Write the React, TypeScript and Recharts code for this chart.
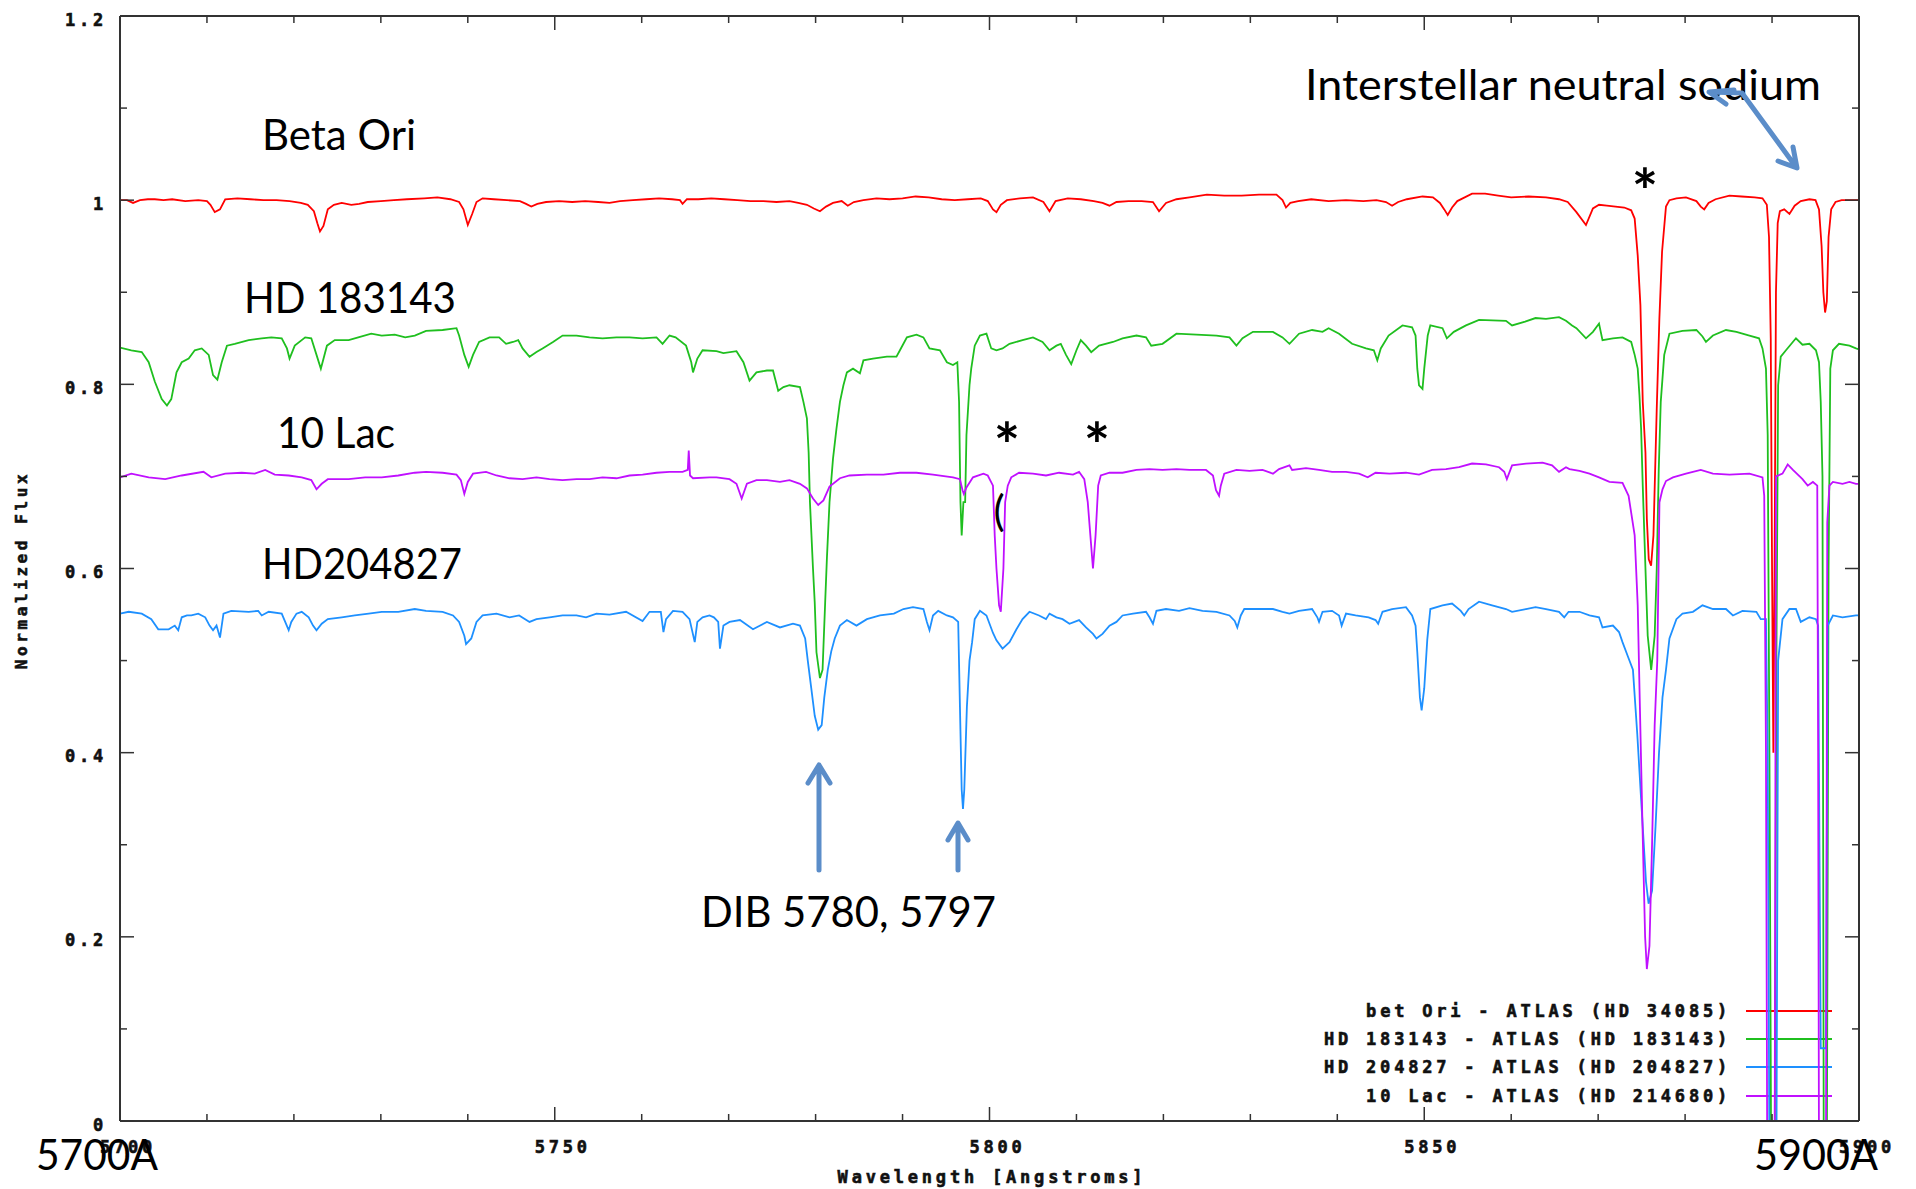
import React from 'react';
import { LineChart, Line, XAxis, YAxis } from 'recharts';

// ---------- data ----------
const xTicks = [5700, 5710, 5720, 5730, 5740, 5750, 5760, 5770, 5780, 5790, 5800, 5810, 5820, 5830, 5840, 5850, 5860, 5870, 5880, 5890, 5900];
const xMajorTicks = [5700, 5750, 5800, 5850, 5900];
const yTicks = [0, 0.1, 0.2, 0.3, 0.4, 0.5, 0.6, 0.7, 0.8, 0.9, 1, 1.1, 1.2];
const yMajorTicks = [0, 0.2, 0.4, 0.6, 0.8, 1, 1.2];

const betOri: [number, number][] = [
  [5700.0, 1.000], [5700.8, 1.000], [5701.5, 0.997], [5702.3, 1.000], [5703.2, 1.001], [5704.0, 1.001], [5705.0, 1.000], [5706.0, 1.001], [5707.5, 0.999], [5709.0, 1.000], [5710.0, 0.999], [5710.4, 0.995], [5710.9, 0.987], [5711.5, 0.990], [5712.1, 1.001], [5713.5, 1.002], [5715.0, 1.001], [5716.5, 1.000], [5718.0, 1.000], [5719.5, 0.999], [5720.8, 0.997], [5721.6, 0.995], [5722.3, 0.988], [5722.7, 0.975], [5723.0, 0.966], [5723.4, 0.972], [5723.9, 0.990], [5724.6, 0.995], [5725.5, 0.997], [5726.6, 0.995], [5727.5, 0.996], [5728.5, 0.998], [5730.0, 0.999], [5731.5, 1.000], [5733.0, 1.001],
  [5735.0, 1.002], [5736.5, 1.003], [5738.0, 1.001], [5739.0, 0.998], [5739.5, 0.990], [5740.0, 0.973], [5740.5, 0.985], [5741.0, 0.998], [5741.7, 1.002], [5743.0, 1.001], [5744.5, 1.000], [5746.0, 0.999], [5746.7, 0.996], [5747.3, 0.993], [5748.0, 0.996], [5749.0, 0.998], [5750.5, 0.999], [5752.0, 0.998], [5753.5, 0.999], [5755.0, 0.998], [5756.3, 0.997], [5757.5, 0.999], [5759.0, 1.000], [5760.5, 1.001], [5762.0, 1.002], [5763.5, 1.001], [5764.4, 1.000], [5764.7, 0.996], [5765.2, 1.001], [5766.5, 1.001], [5768.0, 1.002],
  [5769.5, 1.001], [5771.0, 1.000], [5772.5, 0.999], [5774.0, 0.999], [5775.5, 0.998], [5777.0, 0.999], [5778.0, 0.997], [5779.0, 0.995], [5779.8, 0.991], [5780.5, 0.988], [5781.2, 0.993], [5782.0, 0.997], [5783.0, 0.999], [5783.7, 0.994], [5784.4, 0.998], [5785.5, 1.000], [5787.0, 1.002], [5788.5, 1.001], [5790.0, 1.002], [5791.5, 1.004], [5793.0, 1.003], [5794.5, 1.001], [5796.0, 1.000], [5797.5, 1.001], [5799.0, 1.002], [5799.8, 0.999], [5800.4, 0.990], [5800.8, 0.987], [5801.3, 0.995], [5802.0, 1.000], [5803.5, 1.002], [5805.0, 1.003], [5806.2, 0.998], [5806.9, 0.988], [5807.6, 0.999], [5809.0, 1.002], [5810.5, 1.001], [5812.0, 0.999], [5813.0, 0.997], [5813.8, 0.994], [5814.6, 0.998], [5816.0, 0.999], [5817.5, 0.999], [5818.8, 0.998], [5819.5, 0.988], [5820.3, 0.997], [5821.5, 1.001], [5823.0, 1.003], [5825.0, 1.006], [5827.0, 1.005], [5829.0, 1.005], [5831.0, 1.006], [5833.0, 1.006], [5833.7, 1.000], [5834.1, 0.992], [5834.6, 0.997], [5835.5, 0.999], [5837.0, 1.001], [5839.0, 0.999], [5841.0, 1.000], [5843.0, 0.999], [5844.5, 1.000], [5845.6, 0.998], [5846.3, 0.994], [5847.0, 0.998], [5848.0, 1.001], [5849.8, 1.004], [5851.0, 1.003], [5851.8, 0.997], [5852.3, 0.990], [5852.7, 0.984], [5853.2, 0.992], [5853.8, 0.999], [5855.5, 1.007], [5857.0, 1.007], [5858.5, 1.005], [5860.0, 1.003], [5862.0, 1.004], [5864.0, 1.003], [5865.5, 1.001], [5866.5, 0.998], [5867.5, 0.987], [5868.6, 0.973], [5869.4, 0.991], [5870.1, 0.995], [5871.0, 0.994], [5872.0, 0.993], [5873.0, 0.992], [5873.8, 0.989], [5874.2, 0.980], [5874.55, 0.940], [5874.86, 0.886], [5875.13, 0.781], [5875.44, 0.726], [5875.6, 0.654], [5875.82, 0.610], [5876.09, 0.603], [5876.36, 0.636], [5876.74, 0.774], [5877.04, 0.871], [5877.35, 0.944], [5877.8, 0.993], [5878.2, 1.000], [5879.0, 1.002], [5880.1, 1.003], [5881.3, 0.999], [5881.8, 0.993], [5882.2, 0.990], [5882.7, 0.997], [5883.5, 1.001], [5885.1, 1.005], [5886.5, 1.004], [5888.0, 1.003], [5888.9, 1.002], [5889.4, 0.995], [5889.65, 0.960], [5889.85, 0.850], [5890.0, 0.600], [5890.15, 0.400], [5890.3, 0.620], [5890.45, 0.900], [5890.65, 0.975], [5890.9, 0.988], [5891.4, 0.990], [5892.0, 0.985], [5892.6, 0.994], [5893.3, 0.999], [5894.3, 1.001], [5895.0, 1.000], [5895.4, 0.990], [5895.7, 0.950], [5895.9, 0.900], [5896.1, 0.878], [5896.3, 0.890], [5896.5, 0.960], [5896.8, 0.990], [5897.3, 0.998], [5898.0, 1.000], [5899.0, 1.000], [5900.0, 1.000],
];

const hd183143: [number, number][] = [
  [5700.0, 0.840], [5701.3, 0.837], [5702.5, 0.835], [5703.3, 0.824], [5704.0, 0.803], [5704.8, 0.784], [5705.4, 0.777], [5705.9, 0.784], [5706.5, 0.813], [5707.1, 0.824], [5707.9, 0.828], [5708.6, 0.837], [5709.4, 0.839], [5710.2, 0.832], [5710.7, 0.810], [5711.2, 0.805], [5711.7, 0.824], [5712.3, 0.842], [5713.2, 0.844], [5714.8, 0.848], [5716.3, 0.850], [5717.4, 0.851], [5718.6, 0.850], [5719.2, 0.839], [5719.5, 0.828], [5720.1, 0.842], [5721.3, 0.851], [5722.0, 0.850], [5722.6, 0.832], [5723.1, 0.817], [5723.8, 0.842], [5724.7, 0.848], [5726.3, 0.848], [5727.4, 0.851], [5728.9, 0.855], [5730.1, 0.853], [5731.6, 0.854], [5732.8, 0.851], [5733.9, 0.853], [5735.2, 0.858], [5737.1, 0.859], [5738.7, 0.861], [5739.0, 0.853], [5739.6, 0.832], [5740.1, 0.819], [5740.6, 0.832], [5741.3, 0.846], [5742.5, 0.851], [5743.6, 0.851], [5744.4, 0.844], [5745.2, 0.846], [5745.8, 0.848], [5746.3, 0.839], [5747.1, 0.830], [5747.9, 0.835], [5748.6, 0.839], [5749.8, 0.846], [5750.9, 0.853], [5752.5, 0.853], [5754.0, 0.851], [5755.5, 0.850], [5757.1, 0.851], [5758.6, 0.851], [5760.1, 0.850], [5761.7, 0.851], [5762.4, 0.844], [5763.2, 0.853], [5763.9, 0.851], [5765.1, 0.842], [5765.7, 0.824], [5765.9, 0.813], [5766.4, 0.828], [5767.0, 0.837], [5768.6, 0.836], [5769.4, 0.834], [5770.9, 0.836], [5771.7, 0.824], [5772.4, 0.804], [5773.2, 0.813], [5774.4, 0.815], [5775.1, 0.815], [5775.7, 0.793], [5776.3, 0.797], [5777.0, 0.799], [5778.2, 0.797], [5778.6, 0.781], [5779.0, 0.763], [5779.2, 0.726], [5779.35, 0.672], [5779.7, 0.600], [5779.9, 0.563], [5780.1, 0.509], [5780.5, 0.481], [5780.8, 0.490], [5781.1, 0.563], [5781.3, 0.611], [5781.6, 0.672], [5782.0, 0.719], [5782.4, 0.752], [5782.8, 0.781], [5783.2, 0.799], [5783.6, 0.813], [5784.3, 0.817], [5785.1, 0.812], [5785.5, 0.826], [5786.6, 0.828], [5788.2, 0.830], [5789.3, 0.830], [5789.7, 0.837], [5790.5, 0.851], [5791.6, 0.854], [5792.4, 0.851], [5793.1, 0.839], [5794.3, 0.837], [5795.1, 0.824], [5795.8, 0.821], [5796.3, 0.824], [5796.5, 0.781], [5796.66, 0.672], [5796.8, 0.636], [5797.0, 0.672], [5797.2, 0.672], [5797.35, 0.745], [5797.7, 0.799], [5797.9, 0.817], [5798.3, 0.842], [5798.9, 0.853], [5799.65, 0.855], [5800.2, 0.839], [5800.8, 0.837], [5801.5, 0.839], [5802.3, 0.844], [5803.8, 0.848], [5805.0, 0.851], [5806.1, 0.846], [5806.9, 0.837], [5807.7, 0.842], [5808.2, 0.844], [5808.8, 0.832], [5809.4, 0.822], [5810.0, 0.837], [5810.5, 0.848], [5811.1, 0.842], [5811.7, 0.835], [5812.6, 0.842], [5814.2, 0.846], [5815.3, 0.850], [5816.9, 0.853], [5818.0, 0.851], [5818.6, 0.842], [5819.9, 0.844], [5821.5, 0.855], [5823.8, 0.854], [5826.1, 0.853], [5827.6, 0.851], [5828.4, 0.842], [5829.1, 0.850], [5830.3, 0.857], [5832.6, 0.857], [5833.7, 0.851], [5834.5, 0.844], [5835.6, 0.855], [5837.1, 0.859], [5838.3, 0.857], [5839.0, 0.861], [5840.2, 0.855], [5841.7, 0.844], [5843.3, 0.839], [5844.2, 0.837], [5844.6, 0.826], [5845.0, 0.839], [5845.9, 0.853], [5847.5, 0.864], [5848.6, 0.862], [5849.0, 0.853], [5849.2, 0.817], [5849.4, 0.799], [5849.8, 0.795], [5850.0, 0.817], [5850.4, 0.853], [5850.7, 0.864], [5852.1, 0.861], [5852.6, 0.850], [5853.4, 0.857], [5854.8, 0.864], [5856.3, 0.870], [5859.4, 0.869], [5860.1, 0.864], [5861.6, 0.868], [5862.8, 0.872], [5864.0, 0.871], [5865.5, 0.873], [5866.3, 0.869], [5867.0, 0.864], [5867.5, 0.861], [5868.6, 0.850], [5869.4, 0.857], [5870.1, 0.866], [5870.5, 0.848], [5871.7, 0.850], [5872.8, 0.851], [5873.8, 0.846], [5874.2, 0.832], [5874.55, 0.817], [5874.75, 0.788], [5874.94, 0.752], [5875.13, 0.690], [5875.44, 0.600], [5875.7, 0.527], [5876.1, 0.490], [5876.5, 0.527], [5876.74, 0.600], [5876.97, 0.708], [5877.2, 0.781], [5877.6, 0.832], [5878.2, 0.855], [5879.7, 0.858], [5881.3, 0.859], [5882.0, 0.852], [5882.4, 0.846], [5883.2, 0.853], [5884.7, 0.859], [5885.9, 0.857], [5887.4, 0.853], [5888.5, 0.850], [5888.9, 0.839], [5889.3, 0.817], [5889.5, 0.745], [5889.7, 0.400], [5889.9, -0.05], [5890.3, -0.05], [5890.5, 0.500], [5890.7, 0.799], [5891.0, 0.830], [5891.6, 0.837], [5892.75, 0.850], [5893.5, 0.843], [5894.3, 0.844], [5895.05, 0.837], [5895.4, 0.824], [5895.6, 0.781], [5895.8, 0.700], [5895.95, -0.05], [5896.3, -0.05], [5896.5, 0.600], [5896.7, 0.817], [5897.0, 0.837], [5897.7, 0.844], [5898.9, 0.842], [5899.65, 0.839], [5900.0, 0.838],
];

const hd204827: [number, number][] = [
  [5700.0, 0.551], [5701.0, 0.553], [5702.5, 0.551], [5703.6, 0.545], [5704.4, 0.534], [5705.6, 0.534], [5706.3, 0.538], [5706.7, 0.533], [5707.1, 0.547], [5707.7, 0.549], [5708.2, 0.549], [5709.0, 0.551], [5709.8, 0.547], [5710.3, 0.538], [5710.7, 0.533], [5711.1, 0.538], [5711.5, 0.525], [5711.9, 0.551], [5712.8, 0.554], [5714.8, 0.553], [5715.9, 0.554], [5716.3, 0.549], [5717.1, 0.553], [5718.6, 0.551], [5719.0, 0.542], [5719.4, 0.533], [5719.7, 0.542], [5720.3, 0.551], [5720.9, 0.553], [5721.7, 0.547], [5722.2, 0.538], [5722.6, 0.533], [5723.2, 0.540], [5723.9, 0.545], [5725.5, 0.547], [5727.0, 0.549], [5728.6, 0.551], [5730.1, 0.553], [5732.0, 0.553], [5733.9, 0.556], [5735.2, 0.554], [5737.1, 0.553], [5738.3, 0.549], [5739.0, 0.542], [5739.6, 0.527], [5739.8, 0.518], [5740.4, 0.524], [5741.0, 0.542], [5741.7, 0.549], [5743.3, 0.551], [5744.8, 0.547], [5745.9, 0.549], [5747.1, 0.542], [5747.9, 0.545], [5749.4, 0.547], [5750.9, 0.549], [5752.5, 0.549], [5753.6, 0.547], [5754.8, 0.551], [5756.3, 0.550], [5758.2, 0.553], [5760.1, 0.543], [5760.9, 0.553], [5762.2, 0.553], [5762.5, 0.531], [5762.8, 0.545], [5763.6, 0.554], [5764.7, 0.553], [5765.5, 0.545], [5766.1, 0.520], [5766.4, 0.542], [5767.0, 0.547], [5767.8, 0.549], [5768.3, 0.547], [5768.8, 0.542], [5769.0, 0.513], [5769.4, 0.538], [5770.1, 0.542], [5771.3, 0.544], [5772.8, 0.534], [5774.4, 0.542], [5775.9, 0.536], [5777.4, 0.540], [5778.2, 0.538], [5778.8, 0.524], [5779.1, 0.500], [5779.5, 0.470], [5779.9, 0.440], [5780.3, 0.425], [5780.7, 0.430], [5781.0, 0.460], [5781.4, 0.490], [5781.8, 0.510], [5782.2, 0.524], [5782.8, 0.538], [5783.6, 0.544], [5784.7, 0.538], [5785.9, 0.545], [5787.4, 0.549], [5789.0, 0.551], [5790.1, 0.556], [5791.2, 0.558], [5792.4, 0.556], [5792.8, 0.542], [5793.1, 0.533], [5793.5, 0.549], [5794.1, 0.554], [5795.1, 0.549], [5795.8, 0.547], [5796.4, 0.542], [5796.6, 0.450], [5796.8, 0.360], [5796.95, 0.339], [5797.1, 0.360], [5797.4, 0.450], [5797.7, 0.500], [5798.0, 0.520], [5798.3, 0.545], [5798.9, 0.554], [5799.65, 0.549], [5800.4, 0.530], [5800.8, 0.522], [5801.5, 0.513], [5802.3, 0.520], [5803.1, 0.534], [5803.8, 0.545], [5804.6, 0.553], [5805.7, 0.549], [5806.5, 0.545], [5806.9, 0.551], [5807.7, 0.547], [5808.4, 0.545], [5809.2, 0.540], [5810.3, 0.544], [5811.1, 0.536], [5811.9, 0.529], [5812.3, 0.524], [5813.0, 0.529], [5813.8, 0.538], [5814.6, 0.542], [5815.3, 0.549], [5816.5, 0.551], [5818.0, 0.553], [5818.4, 0.547], [5818.8, 0.540], [5819.2, 0.554], [5820.3, 0.556], [5821.8, 0.554], [5823.0, 0.557], [5824.5, 0.554], [5826.1, 0.553], [5827.6, 0.549], [5828.2, 0.543], [5828.5, 0.536], [5828.9, 0.549], [5829.3, 0.556], [5830.7, 0.556], [5832.6, 0.556], [5833.7, 0.553], [5834.5, 0.551], [5835.6, 0.554], [5837.1, 0.556], [5837.7, 0.547], [5837.9, 0.542], [5838.3, 0.553], [5839.4, 0.554], [5840.2, 0.549], [5840.5, 0.538], [5841.0, 0.551], [5842.1, 0.549], [5843.6, 0.547], [5844.4, 0.544], [5844.7, 0.540], [5845.2, 0.553], [5846.3, 0.556], [5847.9, 0.558], [5848.6, 0.549], [5849.0, 0.538], [5849.2, 0.509], [5849.5, 0.460], [5849.7, 0.446], [5850.0, 0.470], [5850.35, 0.523], [5850.7, 0.556], [5852.1, 0.560], [5853.2, 0.562], [5854.2, 0.554], [5854.6, 0.549], [5855.1, 0.556], [5856.3, 0.564], [5857.8, 0.560], [5859.4, 0.556], [5860.1, 0.553], [5861.7, 0.556], [5862.8, 0.558], [5864.0, 0.556], [5865.5, 0.553], [5866.1, 0.547], [5866.6, 0.553], [5867.85, 0.553], [5869.0, 0.549], [5870.1, 0.547], [5870.5, 0.536], [5871.7, 0.538], [5872.4, 0.531], [5872.8, 0.520], [5873.4, 0.505], [5874.0, 0.490], [5874.5, 0.420], [5875.0, 0.340], [5875.5, 0.260], [5875.8, 0.236], [5876.2, 0.250], [5876.6, 0.320], [5877.0, 0.400], [5877.4, 0.460], [5877.8, 0.490], [5878.2, 0.524], [5879.0, 0.545], [5879.7, 0.551], [5880.9, 0.553], [5882.0, 0.560], [5883.2, 0.556], [5884.7, 0.556], [5885.5, 0.549], [5886.6, 0.554], [5888.2, 0.553], [5888.7, 0.545], [5889.3, 0.545], [5889.5, 0.400], [5889.7, -0.05], [5890.5, -0.05], [5890.7, 0.500], [5891.2, 0.545], [5892.0, 0.556], [5892.75, 0.556], [5893.3, 0.542], [5894.3, 0.547], [5895.05, 0.545], [5895.3, 0.538], [5895.45, 0.300], [5895.6, 0.079], [5896.2, 0.079], [5896.4, 0.538], [5897.0, 0.549], [5898.1, 0.547], [5899.65, 0.549], [5900.0, 0.549],
];

const lac10: [number, number][] = [
  [5700.0, 0.699], [5701.3, 0.703], [5703.3, 0.699], [5705.2, 0.697], [5707.1, 0.701], [5709.6, 0.705], [5710.5, 0.699], [5712.1, 0.703], [5714.0, 0.704], [5715.5, 0.703], [5716.7, 0.707], [5717.8, 0.702], [5719.4, 0.701], [5720.9, 0.699], [5722.0, 0.696], [5722.6, 0.686], [5723.2, 0.692], [5723.9, 0.697], [5726.3, 0.697], [5728.2, 0.699], [5730.1, 0.699], [5732.0, 0.701], [5733.9, 0.704], [5735.2, 0.705], [5737.1, 0.704], [5738.7, 0.702], [5739.2, 0.696], [5739.6, 0.681], [5740.0, 0.694], [5740.6, 0.703], [5742.1, 0.705], [5743.3, 0.701], [5744.8, 0.698], [5746.3, 0.697], [5747.9, 0.699], [5749.4, 0.697], [5750.9, 0.696], [5752.5, 0.697], [5754.0, 0.697], [5755.5, 0.699], [5757.1, 0.698], [5758.6, 0.701], [5760.1, 0.702], [5761.7, 0.704], [5763.2, 0.705], [5764.7, 0.705], [5765.3, 0.707], [5765.41, 0.728], [5765.56, 0.701], [5765.9, 0.698], [5767.8, 0.699], [5768.6, 0.699], [5770.1, 0.697], [5770.9, 0.692], [5771.5, 0.676], [5772.1, 0.692], [5773.2, 0.696], [5774.4, 0.696], [5775.9, 0.694], [5777.0, 0.696], [5778.2, 0.692], [5779.0, 0.687], [5779.7, 0.676], [5780.3, 0.669], [5780.9, 0.674], [5781.6, 0.689], [5782.8, 0.698], [5783.9, 0.701], [5785.9, 0.702], [5787.8, 0.702], [5789.7, 0.704], [5791.6, 0.704], [5793.5, 0.702], [5795.8, 0.699], [5796.6, 0.697], [5796.9, 0.685], [5797.05, 0.681], [5797.35, 0.688], [5798.1, 0.699], [5799.3, 0.703], [5799.8, 0.701], [5800.4, 0.690], [5800.6, 0.636], [5800.8, 0.600], [5801.1, 0.560], [5801.3, 0.553], [5801.6, 0.600], [5801.8, 0.672], [5802.1, 0.690], [5802.5, 0.699], [5803.4, 0.704], [5805.0, 0.703], [5806.5, 0.701], [5808.0, 0.704], [5809.6, 0.702], [5810.3, 0.705], [5810.9, 0.697], [5811.3, 0.672], [5811.6, 0.636], [5811.9, 0.600], [5812.2, 0.636], [5812.5, 0.690], [5812.8, 0.701], [5813.8, 0.704], [5815.3, 0.704], [5816.9, 0.707], [5818.4, 0.708], [5819.9, 0.707], [5821.5, 0.708], [5823.0, 0.707], [5824.9, 0.707], [5825.7, 0.701], [5826.05, 0.685], [5826.4, 0.679], [5826.6, 0.690], [5827.0, 0.703], [5828.4, 0.707], [5829.9, 0.706], [5831.4, 0.707], [5832.6, 0.703], [5833.3, 0.708], [5834.5, 0.712], [5834.8, 0.707], [5836.4, 0.709], [5837.9, 0.707], [5839.4, 0.705], [5841.0, 0.705], [5842.5, 0.703], [5843.5, 0.699], [5844.4, 0.704], [5846.0, 0.703], [5847.9, 0.704], [5849.4, 0.702], [5850.9, 0.707], [5852.5, 0.708], [5854.0, 0.710], [5855.5, 0.714], [5857.1, 0.713], [5858.6, 0.710], [5859.2, 0.705], [5859.5, 0.697], [5860.1, 0.712], [5861.7, 0.714], [5863.6, 0.715], [5864.7, 0.712], [5865.5, 0.705], [5866.3, 0.710], [5866.7, 0.708], [5867.85, 0.706], [5869.0, 0.703], [5870.1, 0.699], [5871.3, 0.694], [5872.8, 0.693], [5873.5, 0.679], [5874.2, 0.636], [5874.55, 0.560], [5874.8, 0.450], [5875.1, 0.320], [5875.4, 0.200], [5875.6, 0.165], [5875.9, 0.190], [5876.2, 0.300], [5876.5, 0.430], [5876.8, 0.500], [5877.05, 0.672], [5877.4, 0.686], [5877.8, 0.695], [5878.6, 0.699], [5880.1, 0.703], [5881.8, 0.707], [5883.2, 0.703], [5885.1, 0.702], [5887.4, 0.703], [5888.9, 0.699], [5889.1, 0.679], [5889.3, 0.400], [5889.45, -0.05], [5890.3, -0.05], [5890.45, 0.700], [5891.2, 0.703], [5891.8, 0.713], [5892.4, 0.707], [5893.5, 0.697], [5894.1, 0.690], [5894.7, 0.694], [5895.2, 0.690], [5895.3, 0.400], [5895.4, -0.05], [5896.2, -0.05], [5896.35, 0.650], [5896.6, 0.690], [5897.0, 0.694], [5898.1, 0.692], [5898.9, 0.694], [5899.65, 0.692], [5900.0, 0.692],
];

const seriesNames = ['bet Ori - ATLAS (HD 34085)', 'HD 183143 - ATLAS (HD 183143)', 'HD 204827 - ATLAS (HD 204827)', '10 Lac - ATLAS (HD 214680)'];
const seriesColors = ['#ff0000', '#1fbf1f', '#1e90ff', '#c010ff'];
const seriesData = [betOri, hd183143, hd204827, lac10];

// ---------- style ----------
const AXIS = '#333333';
const MONO = "'DejaVu Sans Mono', 'Liberation Mono', monospace";
const ANNOT = "Lato, 'Open Sans', sans-serif";
const ARROW = '#5b8dc9';
const MAJOR_LEN = 14;
const MINOR_LEN = 7;

const isMajor = (list: number[], v: number) => list.some((m) => Math.abs(m - v) < 1e-6);
const fmtY = (v: number) => (Math.abs(v) < 1e-9 ? '0' : Math.abs(v - 1) < 1e-9 ? '1' : v.toFixed(1));

const monoText = {
  fontFamily: MONO, fontWeight: 700, fontSize: 17, letterSpacing: 3.8, fill: '#111',
  stroke: '#111', strokeWidth: 0.6,
} as const;

const BottomTick = (p: any) => {
  const { x, y, payload } = p;
  const major = isMajor(xMajorTicks, payload.value);
  return (
    <g>
      <line x1={x} x2={x} y1={y} y2={y - (major ? MAJOR_LEN : MINOR_LEN)} stroke={AXIS} strokeWidth={1.5} />
      {major && (
        <text x={x + 8} y={y + 31.5} textAnchor="middle" style={monoText}>{payload.value}</text>
      )}
    </g>
  );
};
const TopTick = (p: any) => {
  const { x, y, payload } = p;
  const major = isMajor(xMajorTicks, payload.value);
  return <line x1={x} x2={x} y1={y} y2={y + (major ? MAJOR_LEN : MINOR_LEN)} stroke={AXIS} strokeWidth={1.5} />;
};
const LeftTick = (p: any) => {
  const { x, y, payload } = p;
  const major = isMajor(yMajorTicks, payload.value);
  return (
    <g>
      <line x1={x} x2={x + (major ? MAJOR_LEN : MINOR_LEN)} y1={y} y2={y} stroke={AXIS} strokeWidth={1.5} />
      {major && (
        <text x={x - 13} y={y + 9.5} textAnchor="end" style={monoText}>{fmtY(payload.value)}</text>
      )}
    </g>
  );
};
const RightTick = (p: any) => {
  const { x, y, payload } = p;
  const major = isMajor(yMajorTicks, payload.value);
  return <line x1={x} x2={x - (major ? MAJOR_LEN : MINOR_LEN)} y1={y} y2={y} stroke={AXIS} strokeWidth={1.5} />;
};

const annot = { fontFamily: ANNOT, fontSize: 42, fill: '#000' } as const;
const star = { fontFamily: ANNOT, fontWeight: 700, fontSize: 62, fill: '#000' } as const;

export default function App() {
  const legendRows = [1011, 1039, 1067, 1096];
  return (
    <div style={{ position: 'absolute', left: 0, top: 0, width: 1916, height: 1189, background: '#fff', overflow: 'hidden' }}>
      {/* legend (under the curves, as in the original) */}
      <svg width={1916} height={1189} style={{ position: 'absolute', left: 0, top: 0 }}>
        {seriesNames.map((name, i) => (
          <g key={name}>
            <text x={1731} y={legendRows[i] + 6} textAnchor="end" style={monoText}>{name}</text>
            <line x1={1746} x2={1832} y1={legendRows[i]} y2={legendRows[i]} stroke={seriesColors[i]} strokeWidth={2} />
          </g>
        ))}
      </svg>
      <div style={{ position: 'absolute', left: 0, top: 0 }}>
        <LineChart width={1916} height={1189} margin={{ top: 6, right: 47, bottom: 28, left: 60 }}>
          <XAxis
            type="number"
            dataKey="x"
            domain={[5700, 5900]}
            allowDataOverflow
            ticks={xTicks}
            interval={0}
            height={40}
            tickSize={0}
            tickMargin={0}
            tickLine={false}
            tick={BottomTick}
            axisLine={{ stroke: AXIS, strokeWidth: 2 }}
          />
          <XAxis
            xAxisId="top"
            orientation="top"
            type="number"
            dataKey="x"
            domain={[5700, 5900]}
            allowDataOverflow
            ticks={xTicks}
            interval={0}
            height={10}
            tickSize={0}
            tickMargin={0}
            tickLine={false}
            tick={TopTick}
            axisLine={{ stroke: AXIS, strokeWidth: 2 }}
          />
          <YAxis
            type="number"
            domain={[0, 1.2]}
            allowDataOverflow
            ticks={yTicks}
            interval={0}
            width={60}
            tickSize={0}
            tickMargin={0}
            tickLine={false}
            tick={LeftTick}
            axisLine={{ stroke: AXIS, strokeWidth: 2 }}
          />
          <YAxis
            yAxisId="right"
            orientation="right"
            type="number"
            domain={[0, 1.2]}
            allowDataOverflow
            ticks={yTicks}
            interval={0}
            width={10}
            tickSize={0}
            tickMargin={0}
            tickLine={false}
            tick={RightTick}
            axisLine={{ stroke: AXIS, strokeWidth: 2 }}
          />
          {seriesData.map((arr, i) => (
            <Line
              key={seriesNames[i]}
              name={seriesNames[i]}
              data={arr.map(([x, y]) => ({ x, y }))}
              dataKey="y"
              type="linear"
              stroke={seriesColors[i]}
              strokeWidth={1.8}
              dot={false}
              activeDot={false}
              isAnimationActive={false}
            />
          ))}
        </LineChart>
      </div>
      {/* annotations */}
      <svg width={1916} height={1189} style={{ position: 'absolute', left: 0, top: 0, pointerEvents: 'none' }}>
        <text x={27} y={570} transform="rotate(-90 27 570)" textAnchor="middle" style={{ ...monoText, fontSize: 16, letterSpacing: 3.6 }}>Normalized Flux</text>
        <text x={992} y={1183} textAnchor="middle" style={monoText}>Wavelength [Angstroms]</text>

        <text x={262} y={150} textLength={154} lengthAdjust="spacingAndGlyphs" style={annot}>Beta Ori</text>
        <text x={244} y={313} textLength={212} lengthAdjust="spacingAndGlyphs" style={annot}>HD 183143</text>
        <text x={277} y={448} textLength={118} lengthAdjust="spacingAndGlyphs" style={annot}>10 Lac</text>
        <text x={262} y={579} textLength={200} lengthAdjust="spacingAndGlyphs" style={annot}>HD204827</text>
        <text x={1305} y={100} textLength={516} lengthAdjust="spacingAndGlyphs" style={annot}>Interstellar neutral sodium</text>
        <text x={701} y={927} textLength={295} lengthAdjust="spacingAndGlyphs" style={annot}>DIB 5780, 5797</text>
        <text x={36} y={1170} textLength={122} lengthAdjust="spacingAndGlyphs" style={annot}>5700A</text>
        <text x={1754} y={1170} textLength={124} lengthAdjust="spacingAndGlyphs" style={annot}>5900A</text>

        <text x={1645} y={214} textAnchor="middle" style={star}>*</text>
        <text x={1007} y={468} textAnchor="middle" style={star}>*</text>
        <text x={1097} y={468} textAnchor="middle" style={star}>*</text>
        <text x={999} y={526} textAnchor="middle" style={{ ...annot, fontSize: 42 }}>(</text>

        <g stroke={ARROW} strokeWidth={5} fill="none" strokeLinecap="round" strokeLinejoin="round">
          <path d="M819 870 L819 766 M808 783 L819 765 L830 783" />
          <path d="M958 870 L958 824 M948 840 L958 823 L968 840" />
          <path d="M1734 90 L1709 92 L1726 104 M1710 92 L1742 93 L1796 167 M1793 147 L1797 168 L1778 161" />
        </g>
      </svg>
    </div>
  );
}
